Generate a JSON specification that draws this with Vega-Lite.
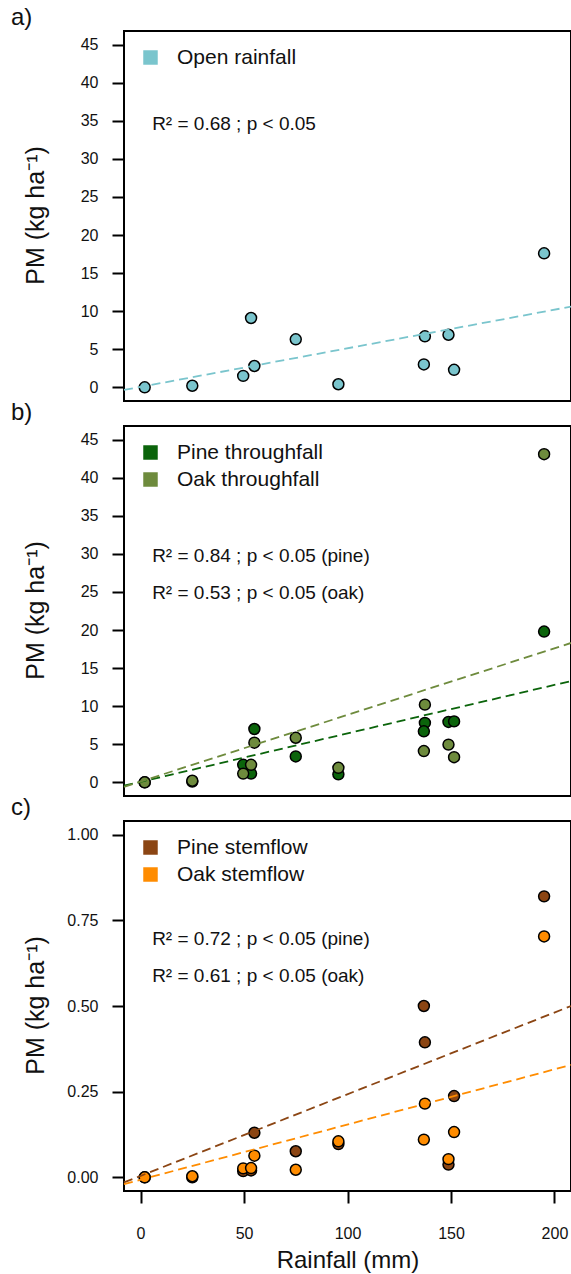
{
  "$schema": "https://vega.github.io/schema/vega-lite/v6.json",
  "padding": {"left": 10, "top": 5, "right": 0, "bottom": 0},
  "background": "white",
  "datasets": {
    "pts": [
      {"panel": "a", "series": "Open rainfall", "rain": 2, "pm": 0.0},
      {"panel": "a", "series": "Open rainfall", "rain": 25, "pm": 0.2},
      {"panel": "a", "series": "Open rainfall", "rain": 49.6, "pm": 1.5},
      {"panel": "a", "series": "Open rainfall", "rain": 53.4, "pm": 9.1},
      {"panel": "a", "series": "Open rainfall", "rain": 55, "pm": 2.8},
      {"panel": "a", "series": "Open rainfall", "rain": 75, "pm": 6.3},
      {"panel": "a", "series": "Open rainfall", "rain": 95.6, "pm": 0.4},
      {"panel": "a", "series": "Open rainfall", "rain": 137.4, "pm": 6.7},
      {"panel": "a", "series": "Open rainfall", "rain": 136.9, "pm": 3.0},
      {"panel": "a", "series": "Open rainfall", "rain": 148.8, "pm": 6.9},
      {"panel": "a", "series": "Open rainfall", "rain": 151.5, "pm": 2.3},
      {"panel": "a", "series": "Open rainfall", "rain": 195, "pm": 17.6},

      {"panel": "b", "series": "Pine throughfall", "rain": 2, "pm": 0.0},
      {"panel": "b", "series": "Pine throughfall", "rain": 25, "pm": 0.1},
      {"panel": "b", "series": "Pine throughfall", "rain": 49.6, "pm": 2.3},
      {"panel": "b", "series": "Pine throughfall", "rain": 53.4, "pm": 1.14},
      {"panel": "b", "series": "Pine throughfall", "rain": 55, "pm": 7.0},
      {"panel": "b", "series": "Pine throughfall", "rain": 75, "pm": 3.4},
      {"panel": "b", "series": "Pine throughfall", "rain": 95.6, "pm": 1.05},
      {"panel": "b", "series": "Pine throughfall", "rain": 137.4, "pm": 7.8},
      {"panel": "b", "series": "Pine throughfall", "rain": 136.9, "pm": 6.7},
      {"panel": "b", "series": "Pine throughfall", "rain": 148.8, "pm": 7.93},
      {"panel": "b", "series": "Pine throughfall", "rain": 151.5, "pm": 8.0},
      {"panel": "b", "series": "Pine throughfall", "rain": 195, "pm": 19.8},
      {"panel": "b", "series": "Oak throughfall", "rain": 2, "pm": 0.0},
      {"panel": "b", "series": "Oak throughfall", "rain": 25, "pm": 0.2},
      {"panel": "b", "series": "Oak throughfall", "rain": 49.6, "pm": 1.14},
      {"panel": "b", "series": "Oak throughfall", "rain": 53.4, "pm": 2.3},
      {"panel": "b", "series": "Oak throughfall", "rain": 55, "pm": 5.2},
      {"panel": "b", "series": "Oak throughfall", "rain": 75, "pm": 5.85},
      {"panel": "b", "series": "Oak throughfall", "rain": 95.6, "pm": 1.9},
      {"panel": "b", "series": "Oak throughfall", "rain": 137.4, "pm": 10.2},
      {"panel": "b", "series": "Oak throughfall", "rain": 136.9, "pm": 4.1},
      {"panel": "b", "series": "Oak throughfall", "rain": 148.8, "pm": 4.95},
      {"panel": "b", "series": "Oak throughfall", "rain": 151.5, "pm": 3.3},
      {"panel": "b", "series": "Oak throughfall", "rain": 195, "pm": 43.1},

      {"panel": "c", "series": "Pine stemflow", "rain": 2, "pm": 0.0},
      {"panel": "c", "series": "Pine stemflow", "rain": 25, "pm": 0.0},
      {"panel": "c", "series": "Pine stemflow", "rain": 49.6, "pm": 0.018},
      {"panel": "c", "series": "Pine stemflow", "rain": 53.4, "pm": 0.02},
      {"panel": "c", "series": "Pine stemflow", "rain": 55, "pm": 0.13},
      {"panel": "c", "series": "Pine stemflow", "rain": 75, "pm": 0.076},
      {"panel": "c", "series": "Pine stemflow", "rain": 95.6, "pm": 0.097},
      {"panel": "c", "series": "Pine stemflow", "rain": 137.4, "pm": 0.394},
      {"panel": "c", "series": "Pine stemflow", "rain": 136.9, "pm": 0.50},
      {"panel": "c", "series": "Pine stemflow", "rain": 148.8, "pm": 0.037},
      {"panel": "c", "series": "Pine stemflow", "rain": 151.5, "pm": 0.237},
      {"panel": "c", "series": "Pine stemflow", "rain": 195, "pm": 0.82},
      {"panel": "c", "series": "Oak stemflow", "rain": 2, "pm": 0.0},
      {"panel": "c", "series": "Oak stemflow", "rain": 25, "pm": 0.003},
      {"panel": "c", "series": "Oak stemflow", "rain": 49.6, "pm": 0.026},
      {"panel": "c", "series": "Oak stemflow", "rain": 53.4, "pm": 0.027},
      {"panel": "c", "series": "Oak stemflow", "rain": 55, "pm": 0.063},
      {"panel": "c", "series": "Oak stemflow", "rain": 75, "pm": 0.022},
      {"panel": "c", "series": "Oak stemflow", "rain": 95.6, "pm": 0.105},
      {"panel": "c", "series": "Oak stemflow", "rain": 137.4, "pm": 0.215},
      {"panel": "c", "series": "Oak stemflow", "rain": 136.9, "pm": 0.11},
      {"panel": "c", "series": "Oak stemflow", "rain": 148.8, "pm": 0.053},
      {"panel": "c", "series": "Oak stemflow", "rain": 151.5, "pm": 0.132},
      {"panel": "c", "series": "Oak stemflow", "rain": 195, "pm": 0.703}
    ],
    "fits": [
      {"panel": "a", "series": "Open rainfall", "rain": -8, "pm": -0.35},
      {"panel": "a", "series": "Open rainfall", "rain": 208, "pm": 10.6},
      {"panel": "b", "series": "Pine throughfall", "rain": -8, "pm": -0.45},
      {"panel": "b", "series": "Pine throughfall", "rain": 208, "pm": 13.3},
      {"panel": "b", "series": "Oak throughfall", "rain": -8, "pm": -0.6},
      {"panel": "b", "series": "Oak throughfall", "rain": 208, "pm": 18.3},
      {"panel": "c", "series": "Pine stemflow", "rain": -8, "pm": -0.015},
      {"panel": "c", "series": "Pine stemflow", "rain": 208, "pm": 0.50},
      {"panel": "c", "series": "Oak stemflow", "rain": -8, "pm": -0.02},
      {"panel": "c", "series": "Oak stemflow", "rain": 208, "pm": 0.328}
    ],
    "notes": [
      {"panel": "a", "row": 1, "label": "R² = 0.68 ; p < 0.05"},
      {"panel": "b", "row": 1, "label": "R² = 0.84 ; p < 0.05 (pine)"},
      {"panel": "b", "row": 2, "label": "R² = 0.53 ; p < 0.05 (oak)"},
      {"panel": "c", "row": 1, "label": "R² = 0.72 ; p < 0.05 (pine)"},
      {"panel": "c", "row": 2, "label": "R² = 0.61 ; p < 0.05 (oak)"}
    ]
  },
  "config": {
    "font": "Liberation Sans",
    "view": {"stroke": "black", "strokeWidth": 2},
    "axis": {
      "domain": false, "grid": false, "ticks": true,
      "tickColor": "black", "tickWidth": 2, "tickSize": 12,
      "labelFont": "Liberation Sans", "labelFontSize": 16, "labelColor": "#111",
      "titleFont": "Liberation Sans", "titleFontSize": 24, "titleFontWeight": "normal", "titleColor": "#111"
    },
    "legend": {
      "orient": "none", "legendX": 16, "legendY": 16, "title": null,
      "symbolType": "square", "symbolSize": 210, "symbolStrokeWidth": 0, "symbolOpacity": 1,
      "labelFont": "Liberation Sans", "labelFontSize": 21, "labelColor": "#111", "labelOffset": 16, "rowPadding": 5
    },
    "title": {"anchor": "start", "frame": "group", "dx": -113, "fontSize": 24, "fontWeight": "normal", "font": "Liberation Sans", "color": "#111", "baseline": "alphabetic", "offset": 1},
    "text": {"font": "Liberation Sans", "fontSize": 19, "color": "#111"}
  },
  "spacing": 25,
  "bounds": "flush",
  "resolve": {"scale": {"color": "independent", "x": "independent", "y": "independent"}, "legend": {"color": "independent"}},
  "vconcat": [
    {
      "width": 447, "height": 370,
      "title": {"text": "a)"},
      "layer": [
        {
          "data": {"name": "pts"},
          "transform": [{"filter": "datum.panel === 'a'"}],
          "mark": {"type": "point", "shape": "circle", "filled": true, "size": 120, "stroke": "black", "strokeWidth": 1.5, "opacity": 1},
          "encoding": {
            "x": {"field": "rain", "type": "quantitative", "scale": {"domain": [-8, 208], "nice": false, "zero": false}, "axis": null},
            "y": {"field": "pm", "type": "quantitative", "scale": {"domain": [-1.8, 46.8], "nice": false, "zero": false},
                  "axis": {"values": [0, 5, 10, 15, 20, 25, 30, 35, 40, 45], "ticks": true, "tickSize": 12, "title": "PM (kg ha⁻¹)", "titleX": -81, "titleY": 184, "titleBaseline": "alphabetic", "titleAngle": -90, "titleAlign": "center", "titleFontSize": 25, "labelPadding": 14}},
            "color": {"field": "series", "type": "nominal", "scale": {"domain": ["Open rainfall"], "range": ["#7AC5CD"]}}
          }
        },
        {
          "data": {"name": "fits"},
          "transform": [{"filter": "datum.panel === 'a'"}],
          "mark": {"type": "line", "strokeDash": [9, 5], "strokeWidth": 1.8},
          "encoding": {
            "x": {"field": "rain", "type": "quantitative"},
            "y": {"field": "pm", "type": "quantitative"},
            "color": {"field": "series", "type": "nominal"}
          }
        },
        {
          "data": {"name": "notes"},
          "transform": [{"filter": "datum.panel === 'a' && datum.row === 1"}],
          "mark": {"type": "text", "align": "left", "baseline": "middle"},
          "encoding": {"x": {"datum": 5.6}, "y": {"datum": 34.6}, "text": {"field": "label"}}
        }
      ]
    },
    {
      "width": 447, "height": 370,
      "title": {"text": "b)"},
      "layer": [
        {
          "data": {"name": "pts"},
          "transform": [{"filter": "datum.panel === 'b'"}],
          "mark": {"type": "point", "shape": "circle", "filled": true, "size": 120, "stroke": "black", "strokeWidth": 1.5, "opacity": 1},
          "encoding": {
            "x": {"field": "rain", "type": "quantitative", "scale": {"domain": [-8, 208], "nice": false, "zero": false}, "axis": null},
            "y": {"field": "pm", "type": "quantitative", "scale": {"domain": [-1.8, 46.8], "nice": false, "zero": false},
                  "axis": {"values": [0, 5, 10, 15, 20, 25, 30, 35, 40, 45], "ticks": true, "tickSize": 12, "title": "PM (kg ha⁻¹)", "titleX": -81, "titleY": 184, "titleBaseline": "alphabetic", "titleAngle": -90, "titleAlign": "center", "titleFontSize": 25, "labelPadding": 14}},
            "color": {"field": "series", "type": "nominal", "scale": {"domain": ["Pine throughfall", "Oak throughfall"], "range": ["#0B640B", "#6E8B3D"]}}
          }
        },
        {
          "data": {"name": "fits"},
          "transform": [{"filter": "datum.panel === 'b'"}],
          "mark": {"type": "line", "strokeDash": [9, 5], "strokeWidth": 1.8},
          "encoding": {
            "x": {"field": "rain", "type": "quantitative"},
            "y": {"field": "pm", "type": "quantitative"},
            "color": {"field": "series", "type": "nominal"}
          }
        },
        {
          "data": {"name": "notes"},
          "transform": [{"filter": "datum.panel === 'b' && datum.row === 1"}],
          "mark": {"type": "text", "align": "left", "baseline": "middle"},
          "encoding": {"x": {"datum": 5.6}, "y": {"datum": 29.7}, "text": {"field": "label"}}
        },
        {
          "data": {"name": "notes"},
          "transform": [{"filter": "datum.panel === 'b' && datum.row === 2"}],
          "mark": {"type": "text", "align": "left", "baseline": "middle"},
          "encoding": {"x": {"datum": 5.6}, "y": {"datum": 24.8}, "text": {"field": "label"}}
        }
      ]
    },
    {
      "width": 447, "height": 370,
      "title": {"text": "c)"},
      "layer": [
        {
          "data": {"name": "pts"},
          "transform": [{"filter": "datum.panel === 'c'"}],
          "mark": {"type": "point", "shape": "circle", "filled": true, "size": 120, "stroke": "black", "strokeWidth": 1.5, "opacity": 1},
          "encoding": {
            "x": {"field": "rain", "type": "quantitative", "scale": {"domain": [-8, 208], "nice": false, "zero": false},
                  "axis": {"values": [0, 50, 100, 150, 200], "ticks": true, "tickSize": 12, "title": "Rainfall (mm)", "labelPadding": 22, "titlePadding": 7}},
            "y": {"field": "pm", "type": "quantitative", "scale": {"domain": [-0.04, 1.04], "nice": false, "zero": false},
                  "axis": {"values": [0, 0.25, 0.5, 0.75, 1], "format": ".2f", "ticks": true, "tickSize": 12, "title": "PM (kg ha⁻¹)", "titleX": -81, "titleY": 184, "titleBaseline": "alphabetic", "titleAngle": -90, "titleAlign": "center", "titleFontSize": 25, "labelPadding": 14}},
            "color": {"field": "series", "type": "nominal", "scale": {"domain": ["Pine stemflow", "Oak stemflow"], "range": ["#8B4513", "#FF8C00"]}}
          }
        },
        {
          "data": {"name": "fits"},
          "transform": [{"filter": "datum.panel === 'c'"}],
          "mark": {"type": "line", "strokeDash": [9, 5], "strokeWidth": 1.8},
          "encoding": {
            "x": {"field": "rain", "type": "quantitative"},
            "y": {"field": "pm", "type": "quantitative"},
            "color": {"field": "series", "type": "nominal"}
          }
        },
        {
          "data": {"name": "notes"},
          "transform": [{"filter": "datum.panel === 'c' && datum.row === 1"}],
          "mark": {"type": "text", "align": "left", "baseline": "middle"},
          "encoding": {"x": {"datum": 5.6}, "y": {"datum": 0.696}, "text": {"field": "label"}}
        },
        {
          "data": {"name": "notes"},
          "transform": [{"filter": "datum.panel === 'c' && datum.row === 2"}],
          "mark": {"type": "text", "align": "left", "baseline": "middle"},
          "encoding": {"x": {"datum": 5.6}, "y": {"datum": 0.588}, "text": {"field": "label"}}
        }
      ]
    }
  ]
}
